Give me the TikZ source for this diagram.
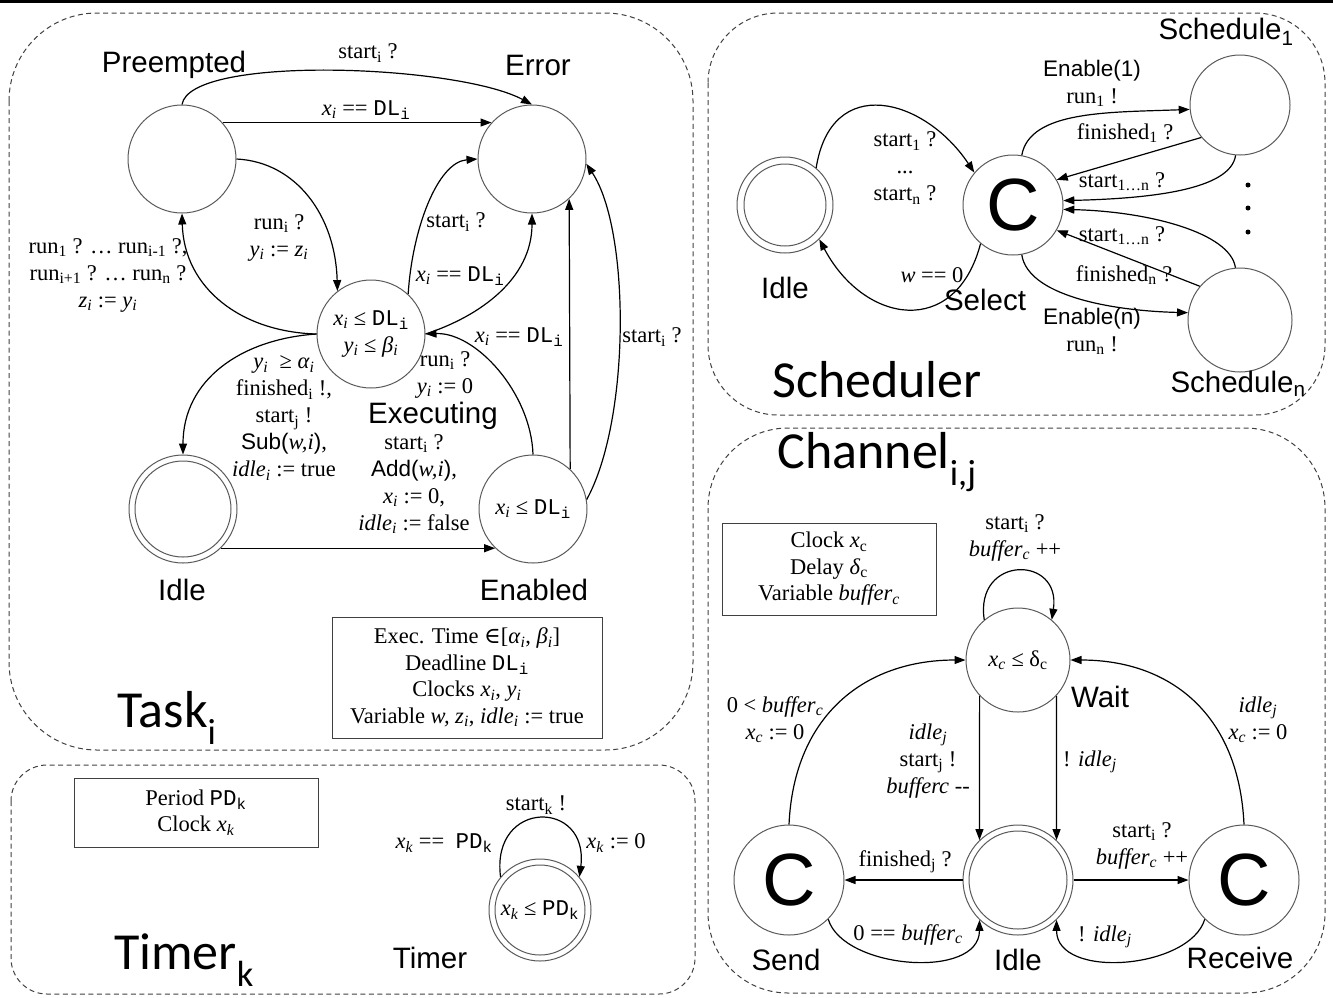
\documentclass[tikz,border=0pt]{standalone}
\usepackage{fontspec}
\setmainfont{Liberation Serif}
\newfontfamily\arialf{Liberation Sans}
\newfontfamily\calf{Carlito}
\newfontfamily\monof{Liberation Mono}
\newfontfamily\symf{DejaVu Serif}
\usetikzlibrary{arrows.meta}
\newcommand\sbs[1]{\textsubscript{#1}}
\newcommand\iv[2]{\textit{#1}\textsubscript{\textit{#2}}}
\newcommand\mono[1]{{\monof #1}}
\begin{document}
\begin{tikzpicture}[x=1pt,y=1pt,
  lbl/.style={font=\fontsize{22.5}{27}\selectfont, align=center, inner sep=0pt},
  albl/.style={font=\arialf\fontsize{29.5}{31}\selectfont, inner sep=0pt},
  ttl/.style={font=\calf\fontsize{52}{52}\selectfont, inner sep=0pt},
  stt/.style={circle, draw=black!65, line width=1pt, minimum size=108pt, inner sep=0pt,
              font=\fontsize{22.5}{27}\selectfont, align=center},
  cstt/.style={stt, font=\arialf\fontsize{74}{74}\selectfont},
  ring/.style={draw=black!65, line width=1pt},
  panel/.style={draw=black!75, line width=1pt, dash pattern=on 5pt off 3.5pt},
  ibox/.style={draw=black!75, line width=1pt, inner sep=0pt, align=center,
               font=\fontsize{22.5}{26.5}\selectfont},
  tr/.style={line width=1.2pt, -{Triangle[length=11pt,width=8pt]}}
]
\useasboundingbox (0,0) rectangle (1333,-997);
\fill (0,0) rectangle (1333,-2.5);

% ---------- panels ----------
\draw[panel, rounded corners=88pt] (9,-13) rectangle (693,-750);
\draw[panel, rounded corners=36pt] (11,-765) rectangle (695,-994);
\draw[panel, rounded corners=70pt] (708,-13) rectangle (1325,-415);
\draw[panel, rounded corners=80pt] (708,-428) rectangle (1325,-993);

% ---------- Task ----------
\node[stt] (pre) at (182,-159) {};
\node[stt] (err) at (532,-159) {};
\node[stt] (exe) at (371,-334) {\iv{x}{i} ≤ \mono{DL\sbs{i}}\\\iv{y}{i} ≤ \iv{β}{i}};
\node[stt] (tidle) at (183,-509) {};
\draw[ring] (tidle.center) circle[radius=48pt];
\node[stt] (ena) at (533,-509) {\iv{x}{i} ≤ \mono{DL\sbs{i}}};

\node[albl] (preL) at (174,-65) {Preempted};
\node[albl] (errL) at (538,-65) {Error};
\node[albl] (exeL) at (433,-416) {Executing};
\node[albl] (tidleL) at (182,-590) {Idle};
\node[albl] (enaL) at (534,-590) {Enabled};
\node[ttl] (taskT) at (167,-718) {Task\sbs{i}};

\draw[tr] (pre.north) .. controls +(8,50) and +(-75,40) .. (err.north);
\draw[tr] (pre.42) -- (err.138);
\draw[tr] (pre.east) .. controls +(60,-3) and +(-2,75) .. (exe.128);
\draw[tr] (exe.west) .. controls +(-75,2) and +(2,-75) .. (pre.south);
\draw[tr] (exe.west) .. controls +(-75,-5) and +(0,75) .. (tidle.north);
\draw[tr] (exe.47) .. controls +(4,65) and +(-40,-3) .. (err.west);
\draw[tr] (exe.east) .. controls +(55,18) and +(0,-65) .. (err.south);
\draw[tr] (ena.north) .. controls +(-2,62) and +(50,2) .. (exe.east);
\draw[tr] (ena.47) -- (err.-47);
\draw[tr] (ena.10) .. controls +(44,80) and +(44,-66) .. (err.-5);
\draw[tr] (tidle.-46) -- (ena.-134);

\node[lbl] (tl1) at (368,-53) {start\sbs{i} ?};
\node[lbl] (tl2) at (366,-110) {\iv{x}{i} == \mono{DL\sbs{i}}};
\node[lbl] (tl3) at (279,-238) {run\sbs{i} ?\\\iv{y}{i} := \iv{z}{i}};
\node[lbl] (tl4) at (108,-275) {run\sbs{1} ? … run\sbs{i-1} ?,\\run\sbs{i+1} ? … run\sbs{n} ?\\\iv{z}{i} := \iv{y}{i}};
\node[lbl] (tl5) at (456,-222) {start\sbs{i} ?};
\node[lbl] (tl6) at (460,-276) {\iv{x}{i} == \mono{DL\sbs{i}}};
\node[lbl] (tl7) at (519,-337) {\iv{x}{i} == \mono{DL\sbs{i}}};
\node[lbl] (tl8) at (652,-337) {start\sbs{i} ?};
\node[lbl] (tl9) at (445,-375) {run\sbs{i} ?\\\iv{y}{i} := 0};
\node[lbl] (tl10) at (414,-484) {start\sbs{i} ?\\{\arialf Add(}\textit{w,i}{\arialf )},\\\iv{x}{i} := 0,\\\iv{idle}{i} := false};
\node[lbl] (tl11) at (284,-418) {\iv{y}{i} \ ≥ \iv{α}{i}\\finished\sbs{i} !,\\start\sbs{j} !\\{\arialf Sub(}\textit{w,i}{\arialf )},\\\iv{idle}{i} := true};

\node[ibox, minimum width=270pt, minimum height=121pt] (tbox) at (467,-677.5)
  {Exec. Time {\symf ∈}[\iv{α}{i}, \iv{β}{i}]\\Deadline \mono{DL\sbs{i}}\\Clocks \iv{x}{i}, \iv{y}{i}\\Variable \textit{w,} \iv{z}{i}, \iv{idle}{i} := true};

% ---------- Timer ----------
\node[stt, minimum size=102pt] (tim) at (540,-910) {\iv{x}{k} ≤ \mono{PD\sbs{k}}};
\draw[ring] (tim.center) circle[radius=45pt];
\draw[tr] (tim.140) .. controls +(-10,78) and +(10,78) .. (tim.40);
\node[lbl] (ml1) at (536,-805) {start\sbs{k} !};
\node[lbl] (ml2) at (444,-843) {\iv{x}{k} ==\ \ \mono{PD\sbs{k}}};
\node[lbl] (ml3) at (616,-843) {\iv{x}{k} := 0};
\node[albl] (timL) at (430,-958) {Timer};
\node[ttl] (timT) at (184,-960) {Timer\sbs{k}};
\node[ibox, minimum width=244pt, minimum height=69pt] (mbox) at (196,-812.5)
  {Period \mono{PD\sbs{k}}\\Clock \iv{x}{k}};

% ---------- Scheduler ----------
\node[stt, minimum size=96pt] (sidle) at (785,-205) {};
\draw[ring] (sidle.center) circle[radius=41pt];
\node[cstt, minimum size=100pt] (sel) at (1013,-205) {C};
\node[stt, minimum size=100pt] (sch1) at (1240,-105) {};
\node[stt, minimum size=104pt] (schn) at (1240,-320) {};

\draw[tr] (sidle.50) .. controls +(15,95) and +(-50,75) .. (sel.140);
\draw[tr] (sel.-130) .. controls +(-25,-95) and +(45,-85) .. (sidle.-45);
\draw[tr] (sel.80) .. controls +(8,45) and +(-80,-3) .. (sch1.185);
\draw[tr] (sch1.220) -- (sel.30);
\draw[tr] (sch1.-95) .. controls +(-5,-35) and +(85,2) .. (sel.5);
\draw[tr] (schn.95) .. controls +(-5,35) and +(85,-2) .. (sel.-5);
\draw[tr] (schn.140) -- (sel.-30);
\draw[tr] (sel.-80) .. controls +(6,-40) and +(-80,2) .. (schn.172);

\fill (1248,-185) circle[radius=2.5pt];
\fill (1248,-208) circle[radius=2.5pt];
\fill (1248,-232) circle[radius=2.5pt];

\node[albl] (sch1L) at (1226,-32) {Schedule\sbs{1}};
\node[albl] (schnL) at (1238,-384) {Schedule\sbs{n}};
\node[albl] (sidleL) at (785,-288) {Idle};
\node[albl] (selL) at (985,-300) {Select};
\node[ttl] (schT) at (877,-380) {Scheduler};
\node[lbl] (sl1) at (905,-168) {start\sbs{1} ?\\...\\start\sbs{n} ?};
\node[lbl] (sl2) at (932,-275) {\textit{w} == 0};
\node[lbl] (sl3) at (1092,-83) {{\arialf Enable(1)}\\run\sbs{1} !};
\node[lbl] (sl4) at (1125,-133) {finished\sbs{1} ?};
\node[lbl] (sl5) at (1122,-182) {start\sbs{1…n} ?};
\node[lbl] (sl6) at (1122,-236) {start\sbs{1…n} ?};
\node[lbl] (sl7) at (1124,-275) {finished\sbs{n} ?};
\node[lbl] (sl8) at (1092,-331) {{\arialf Enable(n)}\\run\sbs{n} !};

% ---------- Channel ----------
\node[ttl] (chT) at (877,-462) {Channel\sbs{i,j}};
\node[ibox, minimum width=214pt, minimum height=92pt] (cbox) at (829,-569)
  {Clock \textit{x}\sbs{c}\\Delay \textit{δ}\sbs{c}\\Variable \iv{buffer}{c}};
\node[stt, minimum size=104pt] (wait) at (1018,-660) {\iv{x}{c} ≤ δ\sbs{c}};
\node[stt, minimum size=110pt] (cidle) at (1018,-880) {};
\draw[ring] (cidle.center) circle[radius=49pt];
\node[cstt, minimum size=110pt] (send) at (789,-880) {C};
\node[cstt, minimum size=110pt] (recv) at (1244,-880) {C};

\draw[tr] (wait.130) .. controls +(-10,65) and +(10,65) .. (wait.50);
\draw[tr] (wait.-137) -- (cidle.134);
\draw[tr] (wait.-43) -- (cidle.46);
\draw[tr] (send.north) .. controls +(5,110) and +(-100,0) .. (wait.west);
\draw[tr] (recv.north) .. controls +(-5,110) and +(100,0) .. (wait.east);
\draw[tr] (cidle.west) -- (send.east);
\draw[tr] (cidle.east) -- (recv.west);
\draw[tr] (send.-45) .. controls +(15,-50) and +(0,-60) .. (cidle.-134);
\draw[tr] (recv.-135) .. controls +(-15,-50) and +(0,-60) .. (cidle.-46);

\node[lbl] (cl1) at (1015,-538) {start\sbs{i} ?\\\iv{buffer}{c} ++};
\node[albl] (waitL) at (1100,-697) {Wait};
\node[lbl] (cl2) at (775,-720) {0 < \iv{buffer}{c}\\\iv{x}{c} := 0};
\node[lbl] (cl3) at (1258,-720) {\iv{idle}{j}\\\iv{x}{c} := 0};
\node[lbl] (cl4) at (928,-761) {\iv{idle}{j}\\start\sbs{j} !\\\textit{bufferc} -{}-};
\node[lbl] (cl5) at (1090,-762) {! \iv{idle}{j}};
\node[lbl] (cl6) at (905,-862) {finished\sbs{j} ?};
\node[lbl] (cl7) at (1142,-846) {start\sbs{i} ?\\\iv{buffer}{c} ++};
\node[lbl] (cl8) at (908,-935) {0 == \iv{buffer}{c}};
\node[lbl] (cl9) at (1105,-937) {! \iv{idle}{j}};
\node[albl] (sendL) at (786,-960) {Send};
\node[albl] (cidleL) at (1018,-960) {Idle};
\node[albl] (recvL) at (1240,-958) {Receive};
\end{tikzpicture}
\end{document}
